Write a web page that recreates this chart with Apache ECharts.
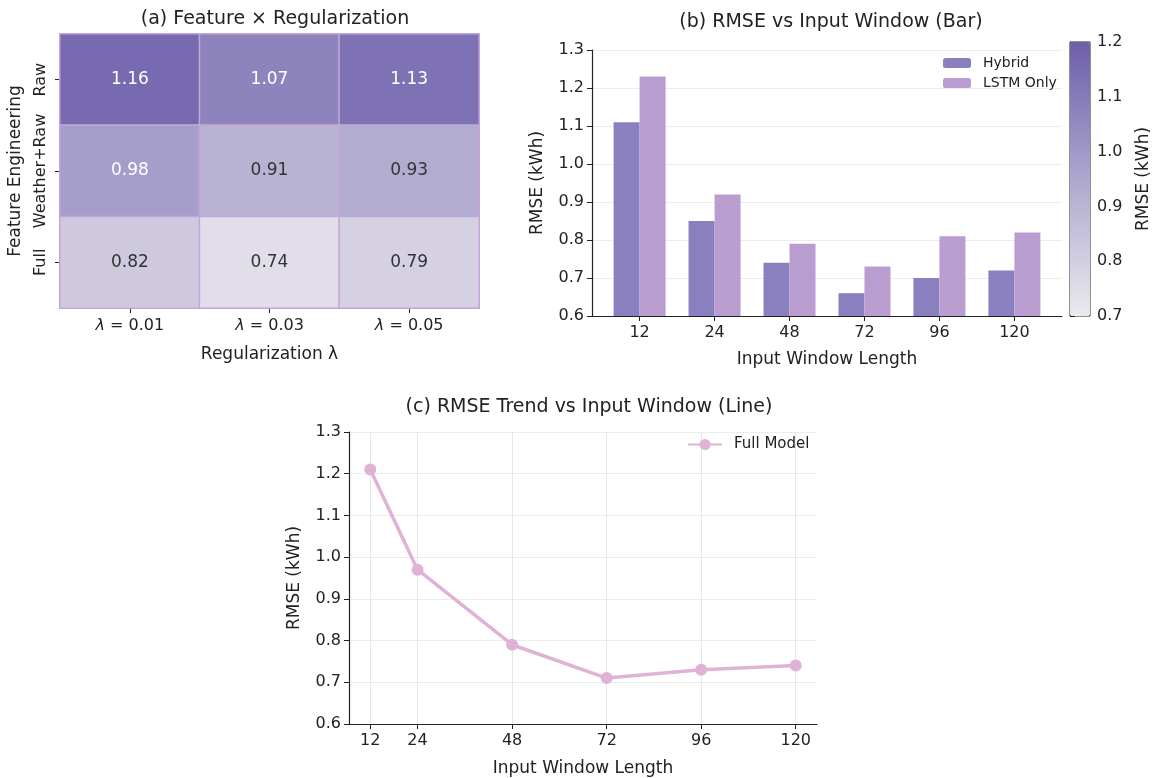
<!DOCTYPE html>
<html>
<head>
<meta charset="utf-8">
<script src="https://cdn.jsdelivr.net/npm/echarts@6/dist/echarts.min.js"></script>
<style>
  html, body { margin: 0; padding: 0; background: #fff; }
  #chart { width: 1158px; height: 778px; }
</style>
</head>
<body>
<div id="chart"></div>
<script>
// Data
const lambdas = ['0.01', '0.03', '0.05'];
const features = ['Raw', 'Weather+Raw', 'Full'];
const heatRaw = [1.16, 1.07, 1.13];
const heatWeather = [0.98, 0.91, 0.93];
const heatFull = [0.82, 0.74, 0.79];

const windows = [12, 24, 48, 72, 96, 120];
const hybrid = [1.11, 0.85, 0.74, 0.66, 0.70, 0.72];
const lstmOnly = [1.23, 0.92, 0.79, 0.73, 0.81, 0.82];
const fullModel = [1.21, 0.97, 0.79, 0.71, 0.73, 0.74];

const FONT = 'DejaVu Sans';
const INK = '#222';

document.addEventListener('DOMContentLoaded', function() {
    const chart = echarts.init(document.getElementById('chart'), null, { renderer: 'canvas' });

    // heatmap cells, white text on dark cells
    const heatRows = [heatRaw, heatWeather, heatFull];
    const heatData = [];
    heatRows.forEach((row, r) => {
        row.forEach((v, c) => {
            heatData.push({
                value: [c, r, v],
                label: { color: v >= 0.97 ? '#ffffff' : '#333333' }
            });
        });
    });

    const barIdx = windows.map((w, i) => i);

    const axisName = { fontFamily: FONT, fontSize: 17, color: INK };
    const tickLabel = { fontFamily: FONT, fontSize: 16, color: INK };
    const titleStyle = { fontFamily: FONT, fontSize: 19, fontWeight: 'normal', color: INK };

    const option = {
        backgroundColor: '#ffffff',
        animation: false,
        title: [
            { text: '(a) Feature × Regularization', left: 270, top: 5, textAlign: 'center', textStyle: titleStyle },
            { text: '(b) RMSE vs Input Window (Bar)', left: 826, top: 8, textAlign: 'center', textStyle: titleStyle },
            { text: '(c) RMSE Trend vs Input Window (Line)', left: 584, top: 393, textAlign: 'center', textStyle: titleStyle }
        ],
        legend: [
            {
                data: ['Hybrid', 'LSTM Only'],
                orient: 'vertical',
                left: 938, top: 51,
                itemWidth: 28, itemHeight: 10, itemGap: 6,
                textStyle: { fontFamily: FONT, fontSize: 14, color: INK, padding: [0, 0, 0, 7] }
            },
            {
                data: ['Full Model'],
                left: 682, top: 432,
                itemWidth: 34, itemHeight: 14,
                textStyle: { fontFamily: FONT, fontSize: 15, color: INK, padding: [0, 0, 0, 7] }
            }
        ],
        grid: [
            { left: 60, top: 34, width: 419, height: 274 },
            { left: 592, top: 50, width: 470, height: 266 },
            { left: 349, top: 432, width: 468, height: 293 },
            { left: 1070, top: 42, width: 20, height: 274, show: true,
              borderColor: INK, borderWidth: 1, backgroundColor: 'transparent' }
        ],
        visualMap: {
            type: 'continuous',
            seriesIndex: 0,
            min: 0.7, max: 1.2,
            calculable: false,
            left: 1070, top: 42,
            itemWidth: 20, itemHeight: 274,
            padding: 0,
            text: null,
            showLabel: false,
            inRange: { color: ['#ebe9ef', '#aea7ce', '#6c5eaa'] }
        },
        xAxis: [
            {
                gridIndex: 0, type: 'category', data: lambdas,
                axisLine: { show: false },
                axisTick: { show: true, alignWithLabel: true, length: 5, lineStyle: { color: INK } },
                axisLabel: Object.assign({}, tickLabel, {
                    margin: 10,
                    formatter: v => '{i|λ} = ' + v,
                    rich: { i: { fontFamily: FONT, fontStyle: 'italic', fontSize: 16, color: INK } }
                }),
                name: 'Regularization λ', nameLocation: 'middle', nameGap: 38, nameTextStyle: axisName
            },
            {
                gridIndex: 1, type: 'value', min: -0.635, max: 5.635,
                axisLine: { onZero: false, lineStyle: { color: INK, width: 1.2 } },
                axisTick: { customValues: barIdx, length: 5, lineStyle: { color: INK } },
                axisLabel: Object.assign({}, tickLabel, {
                    customValues: barIdx, margin: 9,
                    formatter: v => String(windows[Math.round(v)])
                }),
                splitLine: { show: false },
                name: 'Input Window Length', nameLocation: 'middle', nameGap: 35, nameTextStyle: axisName
            },
            {
                gridIndex: 2, type: 'value', min: 6.6, max: 125.4,
                axisLine: { onZero: false, lineStyle: { color: INK, width: 1.2 } },
                axisTick: { customValues: windows, length: 5, lineStyle: { color: INK } },
                axisLabel: Object.assign({}, tickLabel, { customValues: windows, margin: 9 }),
                splitLine: { show: true, lineStyle: { color: '#e6e6e6', width: 1 } },
                name: 'Input Window Length', nameLocation: 'middle', nameGap: 36, nameTextStyle: axisName
            },
            {
                gridIndex: 3, type: 'value', show: false
            }
        ],
        yAxis: [
            {
                gridIndex: 0, type: 'category', data: features, inverse: true,
                axisLine: { show: false },
                axisTick: { show: true, alignWithLabel: true, length: 5, lineStyle: { color: INK } },
                axisLabel: Object.assign({}, tickLabel, { rotate: 90, margin: 11, interval: 0 }),
                name: 'Feature Engineering', nameLocation: 'middle', nameGap: 36, nameTextStyle: axisName
            },
            {
                gridIndex: 1, type: 'value', min: 0.6, max: 1.3, interval: 0.1,
                axisLine: { show: true, onZero: false, lineStyle: { color: INK, width: 1.2 } },
                axisTick: { show: true, length: 5, lineStyle: { color: INK } },
                axisLabel: Object.assign({}, tickLabel, { formatter: v => v.toFixed(1), margin: 8 }),
                splitLine: { show: true, lineStyle: { color: '#ececec', width: 1 } },
                name: 'RMSE (kWh)', nameLocation: 'middle', nameGap: 46, nameTextStyle: axisName
            },
            {
                gridIndex: 2, type: 'value', min: 0.6, max: 1.3, interval: 0.1,
                axisLine: { show: true, onZero: false, lineStyle: { color: INK, width: 1.2 } },
                axisTick: { show: true, length: 5, lineStyle: { color: INK } },
                axisLabel: Object.assign({}, tickLabel, { formatter: v => v.toFixed(1), margin: 8 }),
                splitLine: { show: true, lineStyle: { color: '#ececec', width: 1 } },
                name: 'RMSE (kWh)', nameLocation: 'middle', nameGap: 46, nameTextStyle: axisName
            },
            {
                gridIndex: 3, type: 'value', position: 'right', min: 0.7, max: 1.2, interval: 0.1,
                axisLine: { show: false },
                axisTick: { show: true, length: 5, lineStyle: { color: INK } },
                axisLabel: Object.assign({}, tickLabel, { formatter: v => v.toFixed(1), margin: 7 }),
                splitLine: { show: false },
                name: 'RMSE (kWh)', nameLocation: 'middle', nameGap: 45, nameRotate: 90,
                nameTextStyle: axisName
            }
        ],
        series: [
            {
                type: 'heatmap',
                xAxisIndex: 0, yAxisIndex: 0,
                data: heatData,
                label: { show: true, fontFamily: FONT, fontSize: 17,
                         formatter: p => p.value[2].toFixed(2) },
                itemStyle: { borderColor: '#c3a6d9', borderWidth: 1.5 },
                emphasis: { disabled: true }
            },
            {
                name: 'Hybrid', type: 'bar',
                xAxisIndex: 1, yAxisIndex: 1,
                data: hybrid.map((v, i) => [i, v]),
                barWidth: 26, barGap: '0%',
                itemStyle: { color: '#8a80c0' }
            },
            {
                name: 'LSTM Only', type: 'bar',
                xAxisIndex: 1, yAxisIndex: 1,
                data: lstmOnly.map((v, i) => [i, v]),
                barWidth: 26, barGap: '0%',
                itemStyle: { color: '#ba9dd0' }
            },
            {
                name: 'Full Model', type: 'line',
                xAxisIndex: 2, yAxisIndex: 2,
                data: windows.map((w, i) => [w, fullModel[i]]),
                symbol: 'circle', symbolSize: 12,
                lineStyle: { color: '#e0b2d6', width: 3.5 },
                itemStyle: { color: '#e0b2d6' }
            }
        ]
    };

    chart.setOption(option);
});
</script>
</body>
</html>
